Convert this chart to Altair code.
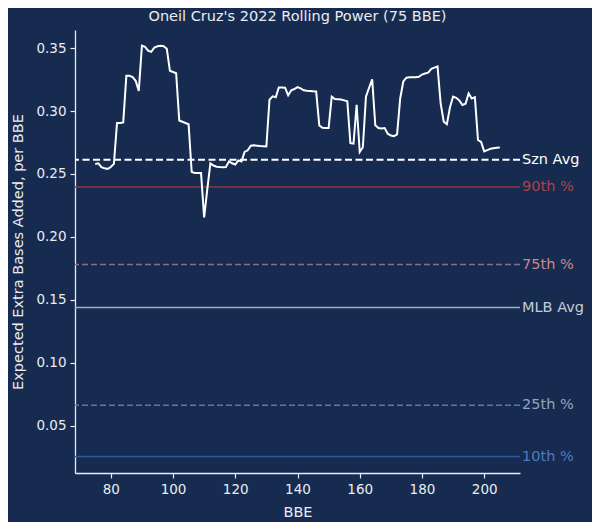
import altair as alt
import pandas as pd

bbe = list(range(75, 206))
xeba = [
    0.2580, 0.2585, 0.2555, 0.2545, 0.2540, 0.2555, 0.2580, 0.2905, 0.2905, 0.2910,  # 75-84
    0.3280, 0.3280, 0.3270, 0.3240, 0.3160, 0.3520, 0.3510, 0.3480, 0.3470, 0.3505,  # 85-94
    0.3515, 0.3518, 0.3515, 0.3495, 0.3320, 0.3310, 0.3300, 0.2925, 0.2915, 0.2905,  # 95-104
    0.2895, 0.2515, 0.2508, 0.2508, 0.2508, 0.2155, 0.2375, 0.2585, 0.2567, 0.2558,  # 105-114
    0.2555, 0.2553, 0.2555, 0.2600, 0.2585, 0.2575, 0.2608, 0.2600, 0.2675, 0.2688,  # 115-124
    0.2725, 0.2728, 0.2725, 0.2722, 0.2720, 0.2718, 0.3090, 0.3117, 0.3110, 0.3188,  # 125-134
    0.3188, 0.3186, 0.3125, 0.3165, 0.3175, 0.3190, 0.3180, 0.3165, 0.3162, 0.3160,  # 135-144
    0.3157, 0.3155, 0.2885, 0.2868, 0.2866, 0.2866, 0.3115, 0.3095, 0.3093, 0.3091,  # 145-154
    0.3085, 0.3078, 0.2745, 0.2742, 0.3050, 0.2675, 0.2712, 0.3115, 0.3185, 0.3252,  # 155-164
    0.2887, 0.2865, 0.2862, 0.2865, 0.2820, 0.2805, 0.2800, 0.2815, 0.3100, 0.3235,  # 165-174
    0.3265, 0.3268, 0.3268, 0.3268, 0.3272, 0.3290, 0.3298, 0.3305, 0.3335, 0.3345,  # 175-184
    0.3355, 0.3060, 0.2915, 0.2895, 0.3030, 0.3115, 0.3105, 0.3085, 0.3048, 0.3058,  # 185-194
    0.3140, 0.3100, 0.3110, 0.2770, 0.2755, 0.2680, 0.2690, 0.2700, 0.2705, 0.2708,  # 195-204
    0.2710,  # 205
]

ref_names = ["Szn Avg", "90th %", "75th %", "MLB Avg", "25th %", "10th %"]
ref_values = [0.2613, 0.2397, 0.1780, 0.1439, 0.0662, 0.0255]
ref_line_colors = ["#FFFFFF", "#8E3447", "#8E6C86", "#A3AEC2", "#627899", "#2C5A9E"]
ref_text_colors = ["#FFFFFF", "#B0404A", "#C98A8E", "#C3CBD8", "#95A4BE", "#4D7BC2"]
ref_dashed = [True, False, True, False, True, False]
ref_widths = [2, 1.5, 1.5, 1.5, 1.5, 1.5]

W, H = 445, 443
BG = "#162B4F"
FG = "#E9ECF2"
FONT = "DejaVu Sans"

line_df = pd.DataFrame({"BBE": bbe, "xEBA": xeba})

xscale = alt.Scale(domain=[68.5, 211.5], nice=False, zero=False)
yscale = alt.Scale(domain=[0.0124, 0.3644], nice=False, zero=False)

layers = []
for name, val, lc, tc, dashed, w in zip(ref_names, ref_values, ref_line_colors,
                                         ref_text_colors, ref_dashed, ref_widths):
    d = pd.DataFrame({"name": [name], "v": [val]})
    kw = {}
    if dashed:
        kw["strokeDash"] = [7, 3.5] if w >= 2 else [6, 3]
    rule = alt.Chart(d).mark_rule(color=lc, strokeWidth=w, **kw).encode(
        y=alt.Y("v:Q", scale=yscale)
    )
    txt = alt.Chart(d).mark_text(
        align="left", baseline="middle", color=tc, font=FONT, fontSize=14.5
    ).encode(
        x=alt.value(W + 2),
        y=alt.Y("v:Q", scale=yscale),
        text="name:N",
    )
    layers += [rule, txt]

main = alt.Chart(line_df).mark_line(color="#FFFFFF", strokeWidth=2).encode(
    x=alt.X("BBE:Q", scale=xscale,
            axis=alt.Axis(title="BBE", values=[80, 100, 120, 140, 160, 180, 200],
                          format="d")),
    y=alt.Y("xEBA:Q", scale=yscale,
            axis=alt.Axis(title="Expected Extra Bases Added, per BBE",
                          values=[0.05, 0.10, 0.15, 0.20, 0.25, 0.30, 0.35],
                          format=".2f")),
)

chart = alt.layer(*layers, main).properties(
    width=W,
    height=H,
    background=BG,
    padding={"left": 67, "top": 22, "right": 72, "bottom": 49},
    autosize=alt.AutoSizeParams(type="none"),
    title=alt.Title("Oneil Cruz's 2022 Rolling Power (75 BBE)", color=FG,
                    font=FONT, fontSize=14.5, fontWeight="normal", offset=6),
).configure_view(stroke=None).configure_axis(
    grid=False,
    domainColor=FG,
    domainWidth=1.3,
    tickColor=FG,
    tickSize=5,
    tickWidth=1.2,
    labelColor=FG,
    labelFont=FONT,
    labelFontSize=13.5,
    labelPadding=4,
    titleColor=FG,
    titleFont=FONT,
    titleFontSize=14.5,
    titleFontWeight="normal",
).configure_axisY(titlePadding=10).configure_axisX(titlePadding=10)

chart.save("out.html", embed_options={"renderer": "svg", "actions": False})
